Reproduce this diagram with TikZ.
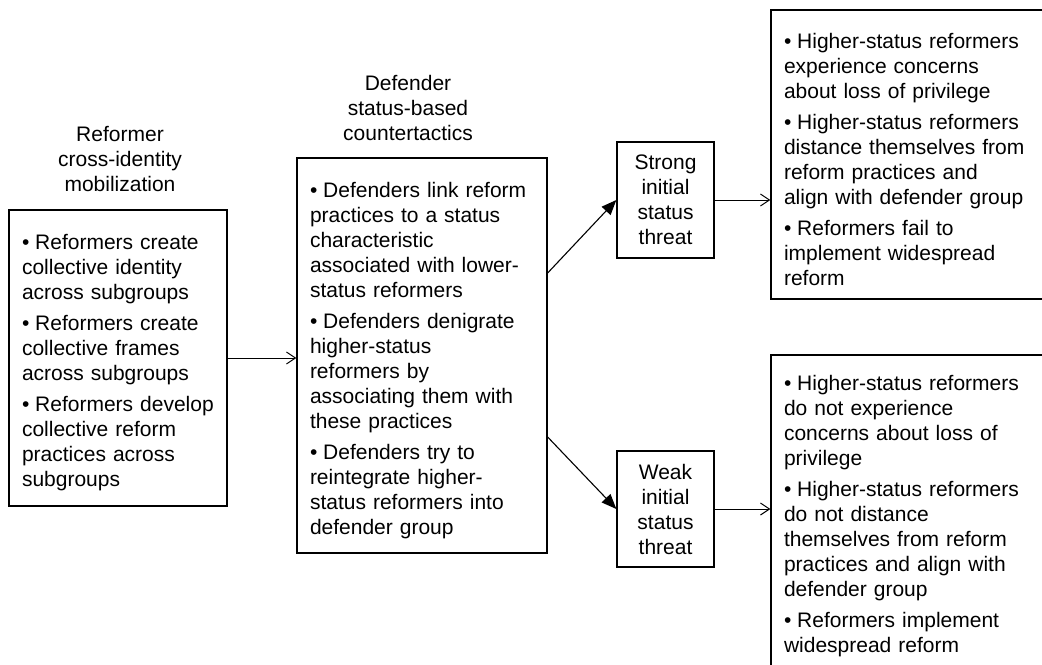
\documentclass[tikz,border=0pt]{standalone}
\usepackage{fontspec}
\setmainfont{Liberation Sans}
\usepackage{tikz}
\usetikzlibrary{arrows.meta}

\newcommand{\bitem}[1]{\par\hangindent=0.628em\hangafter=1\noindent\makebox[0.628em][l]{\textbullet}#1\par}
\newcommand{\bgap}{\vspace{3pt}}

\begin{document}
\begin{tikzpicture}[x=0.5pt,y=-0.5pt,
			box/.style={draw,line width=0.65pt,inner xsep=6.5pt,align=left},
			threat/.style={draw,line width=0.65pt,align=center,minimum width=48.5pt,minimum height=58pt},
			title/.style={align=center},
			openarr/.style={line width=0.5pt,-{Straight Barb[length=4.5pt,width=6pt]}},
			fillarr/.style={line width=0.55pt,-{Triangle[length=7.5pt,width=6pt]}}]
			\tikzstyle{every node}=[font=\fontsize{10.5}{12.5}\selectfont]
		\useasboundingbox (0,0) rectangle (1042,664);
		\clip (0,0) rectangle (1042,664);

		\node[title] (reformTitle) at (120,159) {Reformer\\cross-identity\\mobilization};
		\node[title] (defendTitle) at (408,108) {Defender\\status-based\\countertactics};

		\node[box,minimum width=109pt,minimum height=148pt,text width=96pt] (reformBox) at (118,358) {
			\bitem{Reformers create\\collective identity\\across subgroups}\bgap
			\bitem{Reformers create\\collective frames\\across subgroups}\bgap
			\bitem{Reformers develop\\collective reform\\practices across\\subgroups}};

		\node[box,minimum width=125pt,minimum height=197.5pt,text width=112pt] (defendBox) at (422,355.5) {
			\bitem{Defenders link reform\\practices to a status\\characteristic\\associated with lower-\\status reformers}\bgap
			\bitem{Defenders denigrate\\higher-status\\reformers by\\associating them with\\these practices}\bgap
			\bitem{Defenders try to\\reintegrate higher-\\status reformers into\\defender group}};

		\node[threat] (strongBox) at (665.5,200) {Strong\\initial\\status\\threat};
		\node[threat] (weakBox) at (665.5,509) {Weak\\initial\\status\\threat};

		\node[box,minimum width=145pt,minimum height=144.5pt,text width=132pt] (strongOut) at (916,154.5) {
			\bitem{Higher-status reformers\\experience concerns\\about loss of privilege}\bgap
			\bitem{Higher-status reformers\\distance themselves from\\reform practices and\\align with defender group}\bgap
			\bitem{Reformers fail to\\implement widespread\\reform}};

		\node[box,minimum width=145pt,minimum height=156.5pt,text width=132pt] (weakOut) at (916,511.5) {
			\bitem{Higher-status reformers\\do not experience\\concerns about loss of\\privilege}\bgap
			\bitem{Higher-status reformers\\do not distance\\themselves from reform\\practices and align with\\defender group}\bgap
			\bitem{Reformers implement\\widespread reform}};

		\draw[openarr] (reformBox.east) -- (reformBox.east -| defendBox.west);
		\draw[fillarr] ([yshift=41.25pt]defendBox.east) -- (strongBox.west);
		\draw[fillarr] ([yshift=-40.75pt]defendBox.east) -- (weakBox.west);
		\draw[openarr] (strongBox.east) -- (strongBox.east -| strongOut.west);
		\draw[openarr] (weakBox.east) -- (weakBox.east -| weakOut.west);

	  	\end{tikzpicture}
\end{document}
